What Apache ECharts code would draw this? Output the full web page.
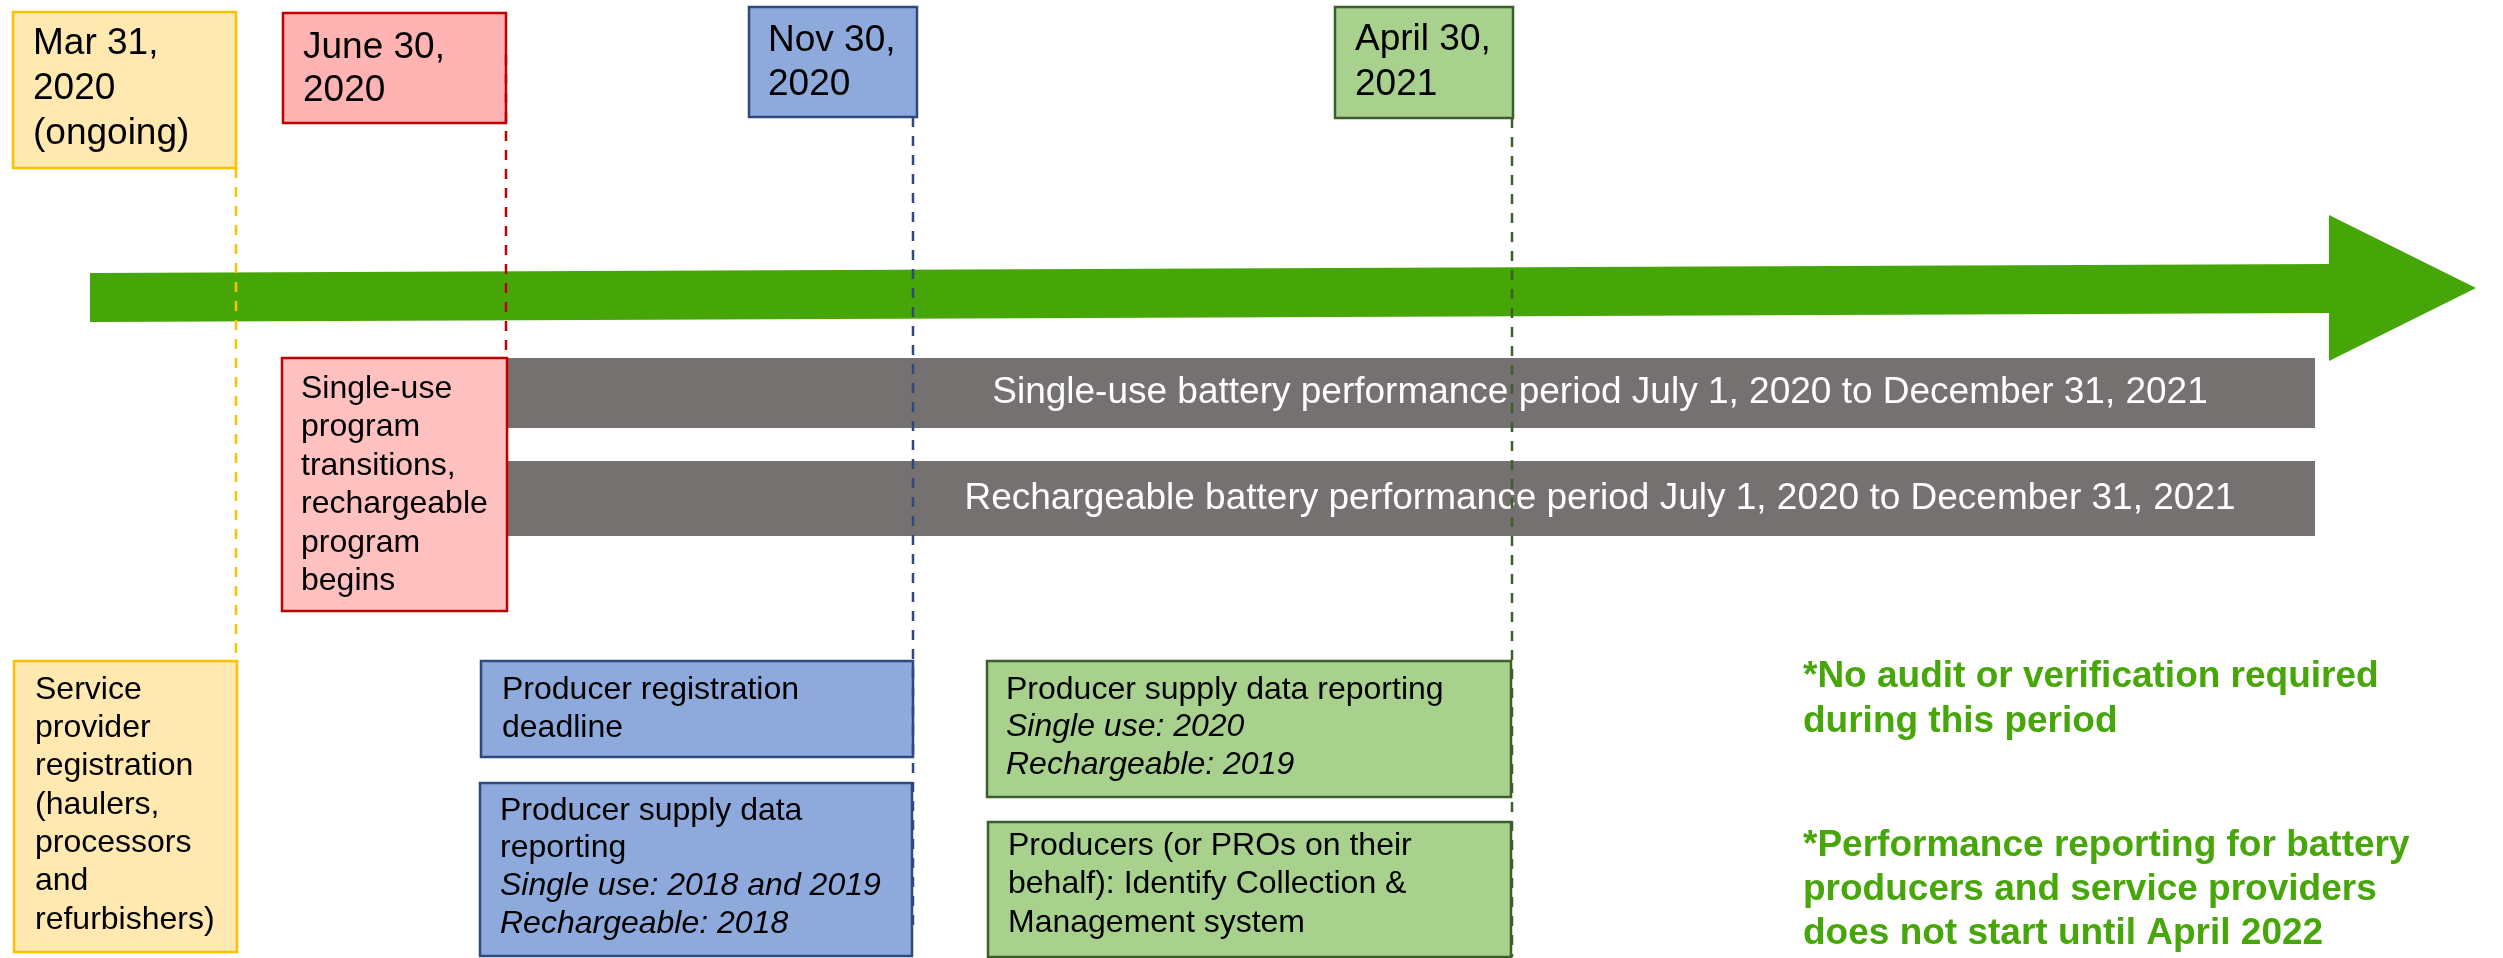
<!DOCTYPE html>
<html><head><meta charset="utf-8">
<script src="https://cdn.jsdelivr.net/npm/echarts@6/dist/echarts.min.js"></script>
<style>html,body{margin:0;padding:0;background:#fff;overflow:hidden}#c{width:2503px;height:958px}</style>
</head><body><div id="c"></div>
<script>
// ---------------- data ----------------
const milestoneLabels = [
  ['Mar 31,', '2020', '(ongoing)'],
  ['June 30,', '2020'],
  ['Nov 30,', '2020'],
  ['April 30,', '2021']
];
const periodLabels = [
  'Single-use battery performance period July 1, 2020 to December 31, 2021',
  'Rechargeable battery performance period July 1, 2020 to December 31, 2021'
];
const eventLabels = [
  [['Single-use', 'n'], ['program', 'n'], ['transitions,', 'n'], ['rechargeable', 'n'], ['program', 'n'], ['begins', 'n']],
  [['Service', 'n'], ['provider', 'n'], ['registration', 'n'], ['(haulers,', 'n'], ['processors', 'n'], ['and', 'n'], ['refurbishers)', 'n']],
  [['Producer registration', 'n'], ['deadline', 'n']],
  [['Producer supply data', 'n'], ['reporting', 'n'], ['Single use: 2018 and 2019', 'i'], ['Rechargeable: 2018', 'i']],
  [['Producer supply data reporting', 'n'], ['Single use: 2020', 'i'], ['Rechargeable: 2019', 'i']],
  [['Producers (or PROs on their', 'n'], ['behalf): Identify Collection &', 'n'], ['Management system', 'n']]
];
const noteLabels = [
  ['*No audit or verification required', 'during this period'],
  ['*Performance reporting for battery', 'producers and service providers', 'does not start until April 2022']
];

// ---------------- layout (axis units = pixels of the sheet) ----------------
const milestoneX = [236, 506, 913, 1512];
const milestoneBox = [[13, 12, 236, 168], [283, 13, 506, 123], [749, 7, 917, 117], [1335, 7, 1513, 118]];
const milestoneText = [[33, 44, 45], [303, 48, 43], [768, 41, 44], [1355, 40, 45]];
const milestoneLine = [[168, 661], [55, 358], [117, 930], [118, 957]];
const palette = [
  {fill: '#FFE9B0', stroke: '#FFC000', dash: '#FFC000'},
  {fill: '#FFB3B3', stroke: '#C00000', dash: '#C00000'},
  {fill: '#8EA9DB', stroke: '#2F4A7A', dash: '#2F4A7A'},
  {fill: '#A9D18E', stroke: '#3B5E2A', dash: '#3B5E2A'}
];
const eventBox = [[282, 358, 507, 611], [14, 661, 237, 952], [481, 661, 913, 757], [480, 783, 912, 956], [987, 661, 1511, 797], [988, 822, 1511, 957]];
const eventText = [[301, 389, 38.5], [35, 690, 38.3], [502, 690, 38], [500, 811, 37.6], [1006, 690, 37.5], [1008, 846, 38.5]];
const eventColor = [1, 0, 2, 2, 3, 3];
const periodBox = [[506, 358, 2315, 428], [506, 461, 2315, 536]];
const periodTextX = 1600;
const noteText = [[1803, 677, 45], [1803, 846, 44]];
const arrowPts = [[90, 273], [2329, 264], [2329, 215], [2476, 288], [2329, 361], [2329, 313], [90, 322]];

const FONT = '"Liberation Sans", Arial, Helvetica, sans-serif';

// build box records
const boxes = [];
milestoneLabels.forEach((lines, i) => {
  boxes.push({rect: milestoneBox[i], fill: palette[i].fill, stroke: palette[i].stroke,
    lines: lines.map(t => [t, 'n']), tx: milestoneText[i][0], ty: milestoneText[i][1], lh: milestoneText[i][2], fs: 37});
});
eventLabels.forEach((lines, i) => {
  const c = palette[eventColor[i]];
  boxes.push({rect: eventBox[i], fill: i === 0 ? '#FFC0C0' : c.fill, stroke: c.stroke,
    lines: lines, tx: eventText[i][0], ty: eventText[i][1], lh: eventText[i][2], fs: 32});
});

const chart = echarts.init(document.getElementById('c'), null, {renderer: 'canvas'});

function boxRender(params, api) {
  const b = boxes[api.value(0)];
  const p0 = api.coord([b.rect[0], b.rect[1]]);
  const p1 = api.coord([b.rect[2], b.rect[3]]);
  const children = [{
    type: 'rect',
    shape: {x: p0[0], y: p0[1], width: p1[0] - p0[0], height: p1[1] - p0[1]},
    style: {fill: b.fill, stroke: b.stroke, lineWidth: 2.5}
  }];
  b.lines.forEach((ln, k) => {
    const p = api.coord([b.tx, b.ty + k * b.lh]);
    children.push({type: 'text', style: {text: ln[0], x: p[0], y: p[1], verticalAlign: 'middle', align: 'left',
      fontSize: b.fs, fontFamily: FONT, fontStyle: ln[1] === 'i' ? 'italic' : 'normal', fill: '#000'}});
  });
  return {type: 'group', children};
}

function periodRender(params, api) {
  const i = api.value(0);
  const r = periodBox[i];
  const p0 = api.coord([r[0], r[1]]);
  const p1 = api.coord([r[2], r[3]]);
  const pt = api.coord([periodTextX, (r[1] + r[3]) / 2]);
  return {type: 'group', children: [
    {type: 'rect', shape: {x: p0[0], y: p0[1], width: p1[0] - p0[0], height: p1[1] - p0[1]}, style: {fill: '#767171'}},
    {type: 'text', style: {text: periodLabels[i], x: pt[0], y: pt[1], align: 'center', verticalAlign: 'middle',
      fontSize: 37, fontFamily: FONT, fill: '#fff'}}
  ]};
}

function arrowRender(params, api) {
  return {type: 'polygon', shape: {points: arrowPts.map(p => api.coord(p))}, style: {fill: '#46A608'}};
}

function dashRender(params, api) {
  const i = api.value(0);
  const a = api.coord([milestoneX[i], milestoneLine[i][0]]);
  const b = api.coord([milestoneX[i], milestoneLine[i][1]]);
  return {type: 'line', shape: {x1: a[0], y1: a[1], x2: b[0], y2: b[1]},
    style: {stroke: palette[i].dash, lineWidth: 2.5, lineDash: [10, 9]}};
}

function noteRender(params, api) {
  const i = api.value(0);
  const n = noteText[i];
  return {type: 'group', children: noteLabels[i].map((t, k) => {
    const p = api.coord([n[0], n[1] + k * n[2]]);
    return {type: 'text', style: {text: t, x: p[0], y: p[1], align: 'left', verticalAlign: 'middle',
      fontSize: 37, fontWeight: 'bold', fontFamily: FONT, fill: '#47A60A'}};
  })};
}

chart.setOption({
  animation: false,
  backgroundColor: '#fff',
  grid: {left: 0, right: 0, top: 0, bottom: 0},
  xAxis: {type: 'value', min: 0, max: 2503, show: false},
  yAxis: {type: 'value', min: 0, max: 958, inverse: true, show: false},
  series: [
    {type: 'custom', renderItem: arrowRender, data: [[0]], z: 1, silent: true},
    {type: 'custom', renderItem: periodRender, data: periodLabels.map((_, i) => [i]), z: 2, silent: true},
    {type: 'custom', renderItem: boxRender, data: boxes.map((_, i) => [i]), z: 3, silent: true},
    {type: 'custom', renderItem: noteRender, data: noteLabels.map((_, i) => [i]), z: 3, silent: true},
    {type: 'custom', renderItem: dashRender, data: milestoneX.map((_, i) => [i]), z: 4, silent: true}
  ]
});
</script></body></html>
